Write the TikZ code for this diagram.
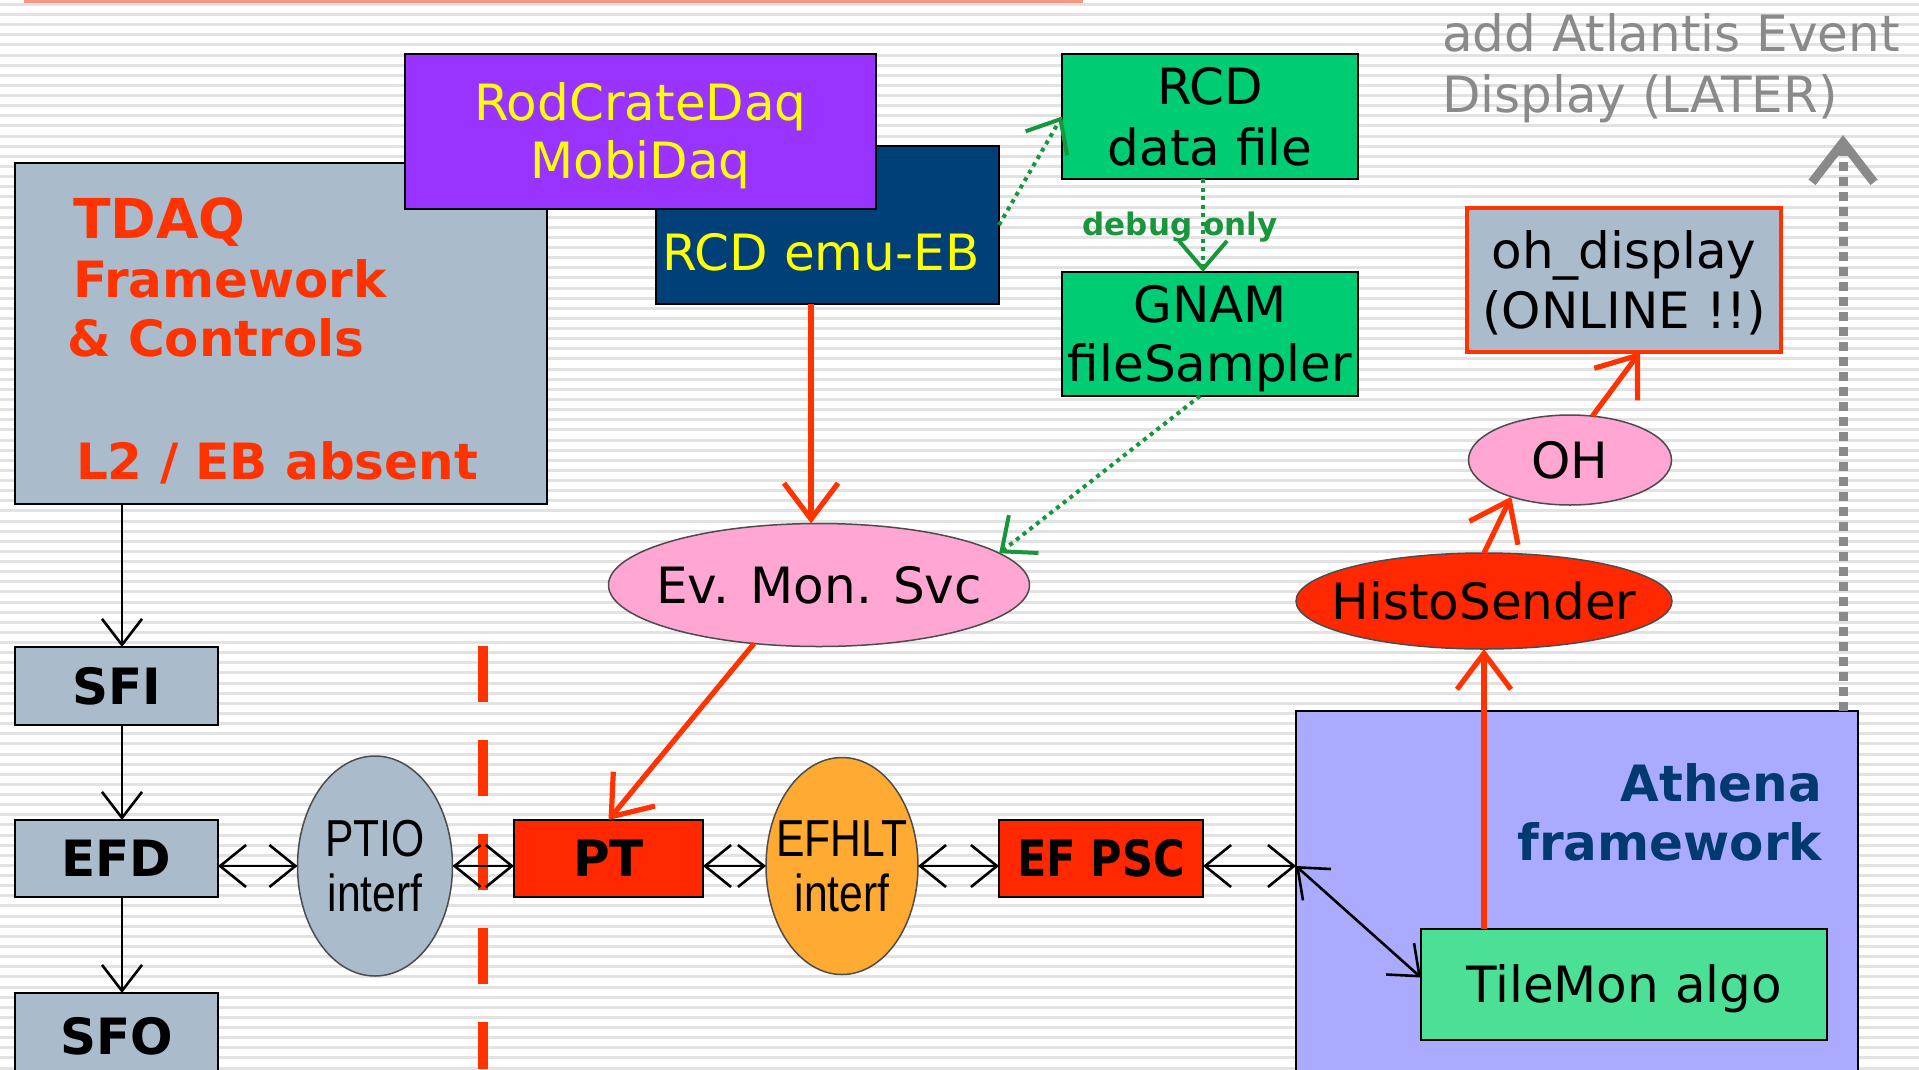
\documentclass[tikz,border=0pt]{standalone}
\usepackage{fontspec}
\usepackage{graphicx}
\setmainfont{DejaVu Sans}
\newfontfamily\narrowfont[FakeStretch=0.82]{Liberation Sans}
\usetikzlibrary{shapes.geometric,arrows.meta}

\definecolor{tdaqblue}{RGB}{170,187,204}
\definecolor{rcdpurple}{RGB}{153,51,255}
\definecolor{rcdnavy}{RGB}{0,64,120}
\definecolor{tdred}{RGB}{255,51,0}
\definecolor{fillred}{RGB}{255,40,0}
\definecolor{boxgreen}{RGB}{0,204,115}
\definecolor{algogreen}{RGB}{76,224,150}
\definecolor{athenablue}{RGB}{170,170,255}
\definecolor{athenanavy}{RGB}{0,58,112}
\definecolor{evpink}{RGB}{255,166,210}
\definecolor{efhltorange}{RGB}{255,170,51}
\definecolor{dgreen}{RGB}{25,150,60}
\definecolor{latergray}{RGB}{138,138,138}
\definecolor{stripegray}{RGB}{226,226,226}
\definecolor{salmonline}{RGB}{244,150,130}
\definecolor{labelyellow}{RGB}{255,255,0}

% a line whose box is exactly its cap height (so centring is visual)
\newcommand\capline[1]{\raisebox{0pt}[\fontcharht\font`H][0pt]{#1}}
% zero-size wrapper: content centred on the node's centre
\newcommand\midset[1]{\makebox[0pt]{\raisebox{-.5\height}[0pt][0pt]{#1}}}
% two lines with a given baseline pitch, box from cap top to last baseline
\newsavebox\linepaira
\newsavebox\linepairb
\newlength\linepairw
\newcommand\linepair[4][c]{%
  \sbox\linepaira{#3}\sbox\linepairb{#4}%
  \ifdim\wd\linepaira>\wd\linepairb \linepairw=\wd\linepaira \else \linepairw=\wd\linepairb \fi
  \raisebox{0pt}[\dimexpr\fontcharht\font`H+#2\relax][0pt]{%
    \makebox[\linepairw][#1]{\usebox\linepairb}%
    \llap{\raisebox{#2}{\makebox[\linepairw][#1]{\usebox\linepaira}}}}}

\begin{document}
\begin{tikzpicture}[x=1pt, y=-1pt,
  box/.style={rectangle, draw=black, line width=2.5pt, inner sep=0pt, outer sep=0pt},
  oval/.style={ellipse, draw=black!70, line width=1.5pt, inner sep=0pt, outer sep=0pt},
  txt/.style={inner sep=0pt, outer sep=0pt, font=\fontsize{50}{58}\selectfont},
  boldtxt/.style={txt, font=\fontsize{50}{58}\selectfont\bfseries},
  narrowtxt/.style={txt, font=\narrowfont\fontsize{52}{58}\selectfont},
  stripe/.style={draw=stripegray, line width=3pt},
  blackline/.style={draw=black, line width=2.6pt},
  onearrow/.style={blackline, -{Straight Barb[length=26pt, width=40pt]}},
  twoarrow/.style={blackline, {Straight Barb[length=26pt, width=42pt]}-{Straight Barb[length=26pt, width=42pt]}},
  redflow/.style={draw=tdred, line width=5.2pt, -{Straight Barb[length=36pt, width=54pt]}},
  greenflow/.style={draw=dgreen, line width=4pt, dash pattern=on 4pt off 4.5pt, -{Straight Barb[length=28pt, width=48pt]}},
  laterflow/.style={draw=latergray, line width=9pt, dash pattern=on 9pt off 6pt, -{Straight Barb[length=40pt, width=62pt]}},
  divider/.style={draw=tdred, line width=10pt, dash pattern=on 56pt off 38pt},
]
\useasboundingbox (0,0) rectangle (1919,1069);
\clip (0,0) rectangle (1919,1069);

% striped slide background
\fill[white] (0,0) rectangle (1919,1069);
\foreach \k in {0,...,105}
  \draw[stripe] (0,{4.4+10.13*\k}) -- (1919,{4.4+10.13*\k});
\fill[salmonline] (24,0) rectangle (1083,3);

% TDAQ side
\node[box, fill=tdaqblue, minimum width=532pt, minimum height=341pt] (tdaq) at (281,333.5) {};
\node[txt, text=tdred, anchor=west, font=\fontsize{55}{60}\selectfont\bfseries] (tdaq-t1) at (73,218) {\capline{TDAQ}};
\node[boldtxt, text=tdred, anchor=west] (tdaq-t2) at (73,279) {\capline{Framework}};
\node[boldtxt, text=tdred, anchor=west] (tdaq-t3) at (67,338) {\capline{\& Controls}};
\node[boldtxt, text=tdred, anchor=west] (tdaq-t4) at (76,461) {\capline{L2 / EB absent}};

\node[box, fill=rcdnavy, minimum width=343pt, minimum height=158pt] (rcdemu) at (827.5,225) {};
\node[txt, text=labelyellow] (rcdemu-t) at (821,252) {\midset{\capline{RCD emu-EB}}};
\node[box, txt, fill=rcdpurple, text=labelyellow, minimum width=471pt, minimum height=155pt] (rodcrate) at (640.5,131.5)
  {\midset{\linepair{58pt}{RodCrateDaq}{MobiDaq}}};

\node[box, txt, fill=boxgreen, minimum width=296pt, minimum height=125pt] (rcdfile) at (1210,116.5)
  {\midset{\linepair{61pt}{RCD}{data file}}};
\node[box, txt, fill=boxgreen, minimum width=296pt, minimum height=124pt] (gnam) at (1210,334)
  {\midset{\linepair{59pt}{GNAM}{fileSampler}}};
\node[txt, text=dgreen, font=\fontsize{31}{36}\selectfont\bfseries] (debug-t) at (1180,224) {\midset{\capline{debug only}}};

\node[txt, text=latergray, anchor=west] (later-t) at (1442,63.5)
  {\linepair[l]{61pt}{add Atlantis Event}{Display (LATER)}};
\node[box, txt, draw=tdred, line width=4.5pt, fill=tdaqblue, minimum width=314pt, minimum height=144pt] (ohdisp) at (1624,280)
  {\midset{\linepair{60pt}{oh\_display}{(ONLINE !!)}}};

\node[oval, txt, fill=evpink, minimum width=203pt, minimum height=90pt] (oh) at (1570,460) {\midset{\capline{OH}}};
\node[oval, txt, fill=evpink, minimum width=421pt, minimum height=123pt] (evmon) at (819,585) {\midset{\capline{Ev. Mon. Svc}}};
\node[oval, txt, fill=fillred, minimum width=376pt, minimum height=96pt] (histo) at (1484,601) {\midset{\capline{HistoSender}}};

% event-filter chain
\node[box, boldtxt, fill=tdaqblue, minimum width=203pt, minimum height=78pt] (sfi) at (116.5,686) {\midset{\capline{SFI}}};
\node[box, boldtxt, fill=tdaqblue, minimum width=203pt, minimum height=77pt] (efd) at (116.5,858.5) {\midset{\capline{EFD}}};
\node[box, boldtxt, fill=tdaqblue, minimum width=203pt, minimum height=87pt] (sfo) at (116.5,1036.5) {\midset{\capline{SFO}}};

\draw[divider] (483,646) -- (483,1069);

\node[oval, narrowtxt, fill=tdaqblue, minimum width=155pt, minimum height=220pt] (ptio) at (375,866)
  {\midset{\linepair{55pt}{PTIO}{interf}}};
\node[box, boldtxt, fill=fillred, minimum width=189pt, minimum height=77pt] (pt) at (608.5,858.5) {\midset{\capline{PT}}};
\node[oval, narrowtxt, fill=efhltorange, minimum width=152pt, minimum height=217pt] (efhlt) at (842,866)
  {\midset{\linepair{55pt}{EFHLT}{interf}}};
\node[box, boldtxt, fill=fillred, minimum width=204pt, minimum height=77pt] (efpsc) at (1101,858.5)
  {\midset{\scalebox{0.86}[1]{\capline{EF PSC}}}};

% Athena side
\node[box, fill=athenablue, minimum width=562pt, minimum height=369pt] (athena) at (1577,895.5) {};
\node[boldtxt, text=athenanavy, anchor=east] (athena-t) at (1822,812.5) {\linepair[r]{59pt}{Athena}{framework}};
\node[box, txt, fill=algogreen, minimum width=406pt, minimum height=111pt] (tilemon) at (1624,984.5) {\midset{\capline{TileMon algo}}};

% axis helpers for straight vertical connectors
\coordinate (chain-x) at (122,0);
\coordinate (emu-x) at (811,0);
\coordinate (file-x) at (1203,0);
\coordinate (later-x) at (1843,0);
\coordinate (later-tip) at (1843,135);
\coordinate (fw-in) at (athena.west |- efhlt.east);

% connectors
\draw[onearrow] (tdaq.south -| chain-x) -- (sfi.north -| chain-x);
\draw[onearrow] (sfi.south -| chain-x) -- (efd.north -| chain-x);
\draw[onearrow] (efd.south -| chain-x) -- (sfo.north -| chain-x);

\draw[twoarrow] (efd.east |- ptio.west) -- (ptio.west);
\draw[twoarrow] (ptio.east) -- (pt.west |- ptio.east);
\draw[twoarrow] (pt.east |- efhlt.west) -- (efhlt.west);
\draw[twoarrow] (efhlt.east) -- (efpsc.west |- efhlt.east);
\draw[twoarrow] (efpsc.east |- efhlt.east) -- (fw-in);
\draw[twoarrow] (fw-in) -- ([yshift=7pt]tilemon.west);

\draw[redflow] (rcdemu.south -| emu-x) -- (evmon.north -| emu-x);
\draw[redflow] (evmon.-138) -- (pt.north);
\draw[redflow] (tilemon.north -| histo.south) -- (histo.south);
\draw[redflow] (histo.north) -- (oh.212);
\draw[redflow] (oh.63) -- ([xshift=16pt]ohdisp.south);

\draw[greenflow] (rcdemu.east) -- (rcdfile.west);
\draw[greenflow] (rcdfile.south -| file-x) -- (gnam.north -| file-x);
\draw[greenflow] ([xshift=-10pt]gnam.south) -- (evmon.10);

\draw[laterflow] (athena.north -| later-x) -- (later-tip);
\end{tikzpicture}
\end{document}
